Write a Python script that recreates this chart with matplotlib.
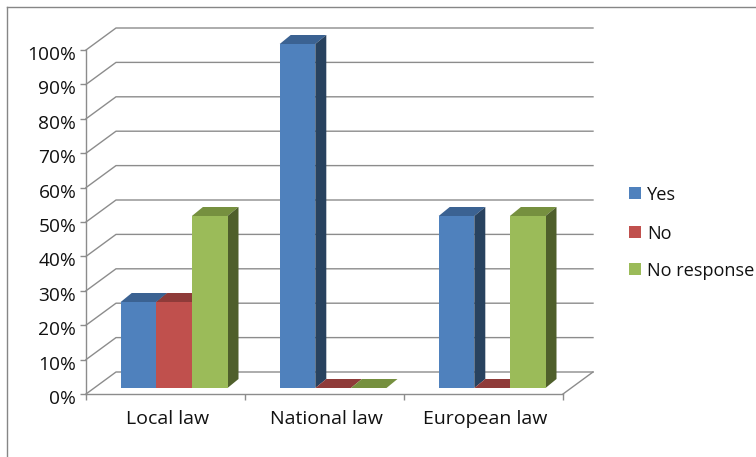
"""
Clustered 3D-style column chart: responses per level of law.
"""

import matplotlib
matplotlib.use("Agg")
import matplotlib.pyplot as plt
from matplotlib.lines import Line2D
from matplotlib.patches import Polygon, Rectangle
from matplotlib.transforms import Affine2D

categories = ["Local law", "National law", "European law"]
series = ["Yes", "No", "No response"]
yes_vals = [25, 100, 50]
no_vals = [25, 0, 0]
noresp_vals = [50, 0, 50]
y_ticks = [0, 10, 20, 30, 40, 50, 60, 70, 80, 90, 100]

# ── palette ──────────────────────────────────────────────────────────
FRONT = ["#4F81BD", "#C0504D", "#9BBB59"]
TOP = ["#3B6292", "#8F3B39", "#76903F"]
SIDE = ["#28425F", "#612624", "#4F5F2B"]
GRID = "#8C8C8C"
FRAME = "#868686"
TXT = "#111111"

W, H = 756, 457
DPI = 100
plt.rcParams["font.family"] = ["Open Sans", "DejaVu Sans"]

fig = plt.figure(figsize=(W / DPI, H / DPI), dpi=DPI)
fig.patch.set_facecolor("white")

# chart frame, open on the right and bottom
fig.add_artist(Line2D([7 / W, 7 / W], [0, 1 - 7 / H], color=FRAME, lw=1))
fig.add_artist(Line2D([7 / W, 1], [1 - 7 / H, 1 - 7 / H], color=FRAME, lw=1))

# ── axes: front plane of the box ─────────────────────────────────────
x0, x1 = 86, 563
y0, y1 = 394, 50
ax = fig.add_axes([x0 / W, 1 - y0 / H, (x1 - x0) / W, (y0 - y1) / H])
ax.set_xlim(0, 3)
ax.set_ylim(0, 100)
ax.patch.set_visible(False)
for s in ["top", "right"]:
    ax.spines[s].set_visible(False)
for s in ["left", "bottom"]:
    ax.spines[s].set_color(GRID)
    ax.spines[s].set_linewidth(1)

ax.set_yticks(y_ticks)
ax.set_yticklabels([f"{v}%" for v in y_ticks], fontsize=13.8, color=TXT)
ax.set_xticks([0, 1, 2, 3])
ax.set_xticklabels([])
ax.tick_params(axis="both", color=GRID, length=4, width=1)
ax.tick_params(axis="y", pad=3)
for lbl in ax.get_yticklabels():
    lbl.set_transform(lbl.get_transform() + Affine2D().translate(0, -3))
for i, name in enumerate(categories):
    ax.annotate(name, xy=(i + 0.5, 0), xytext=(2, -25), textcoords="offset pixels",
                ha="center", va="center", fontsize=14, color=TXT,
                annotation_clip=False)

# ── box depth, in data units ─────────────────────────────────────────
px_x = 3 / (x1 - x0)
px_y = 100 / (y0 - y1)
wall_dx, wall_dy = 30 * px_x, 22 * px_y

# back-wall gridlines with their diagonals on the side wall
for v in y_ticks:
    ax.plot([0, wall_dx, 3 + wall_dx], [v, v + wall_dy, v + wall_dy],
            color=GRID, lw=1, clip_on=False, zorder=1)
# right edge of the floor
ax.plot([3, 3 + wall_dx], [0, wall_dy], color=GRID, lw=1, clip_on=False, zorder=1)

# ── bars ─────────────────────────────────────────────────────────────
bar_w = 35.6 * px_x
depth_dx, depth_dy = 11 * px_x, 9 * px_y
# bars stand a little inside the floor
shift = ax.transData + Affine2D().translate(8.6, 6)

z = 3
for i in range(len(categories)):
    vals = [yes_vals[i], no_vals[i], noresp_vals[i]]
    for j, v in enumerate(vals):
        left = i + 0.5 + (j - 1.5) * bar_w
        right = left + bar_w
        ax.add_patch(Polygon([(left, v), (right, v),
                              (right + depth_dx, v + depth_dy),
                              (left + depth_dx, v + depth_dy)],
                             fc=TOP[j], ec="none", transform=shift,
                             clip_on=False, zorder=z))
        ax.add_patch(Polygon([(right, 0), (right + depth_dx, depth_dy),
                              (right + depth_dx, v + depth_dy), (right, v)],
                             fc=SIDE[j], ec="none", transform=shift,
                             clip_on=False, zorder=z))
        ax.bar(left, v, bar_w, align="edge", color=FRONT[j], transform=shift,
               clip_on=False, zorder=z + 0.5)
        z += 1

# ── legend ───────────────────────────────────────────────────────────
legend_y = [193, 232, 269]
for name, c, ly in zip(series, FRONT, legend_y):
    fig.add_artist(Rectangle((629 / W, 1 - (ly + 6) / H), 12 / W, 12 / H,
                             transform=fig.transFigure, fc=c, ec="none"))
    fig.text(647 / W, 1 - (ly + 2) / H, name, ha="left", va="center",
             fontsize=13.1, color=TXT)

fig.savefig("out.png", dpi=DPI, facecolor="white")
plt.close()
